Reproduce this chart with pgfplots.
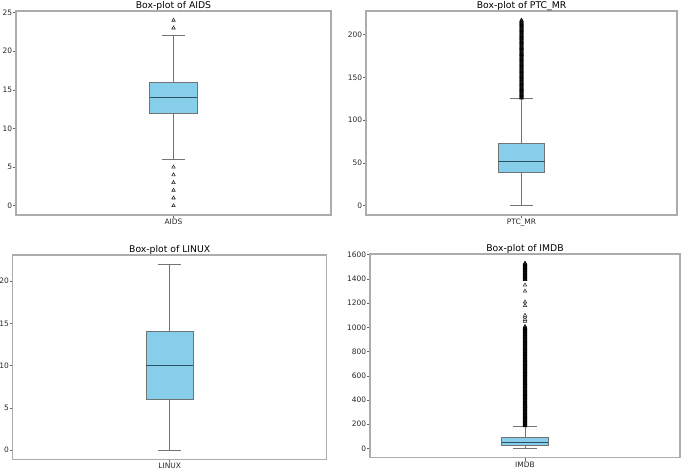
\documentclass[border=0pt]{standalone}
\usepackage{fontspec}
\setmainfont{DejaVu Sans}
\usepackage{pgfplots}
\pgfplotsset{compat=1.18}
\definecolor{boxfill}{RGB}{135,206,235}
\definecolor{boxedge}{RGB}{115,115,115}
\definecolor{medcol}{RGB}{42,82,98}
\definecolor{spine}{RGB}{172,172,172}
\pgfplotsset{bxp/.style={scale only axis, anchor=south west,
  xmin=0.5, xmax=1.5, xtick={1},
  axis line style={spine, line width=1.3bp},
  tick style={black!60, line width=0.6bp},
  major tick length=3bp, tick align=outside, tick pos=left,
  ticklabel style={font=\fontsize{7.5}{9}\selectfont, text=black!85},
  yticklabel style={inner sep=0.6bp},
  xticklabel style={inner sep=0.8bp},
  /pgf/number format/assume math mode=true,
  /pgf/number format/1000 sep={},
  scaled ticks=false,
  every axis title/.style={font=\fontsize{9.3}{11}\selectfont, at={(0.5,1)}, anchor=base, inner sep=0pt, yshift=2.8bp},
}}
\pgfplotsset{
  outl/.style={only marks, mark=triangle*, mark size=2bp, mark options={draw=black!85, fill=white, line width=0.55bp, solid}},
  outd/.style={only marks, mark=triangle*, mark size=2bp, mark options={draw=black, fill=black!80, line width=0.6bp, solid}},
  whisk/.style={draw=boxedge, line width=0.8bp, mark=none},
  boxs/.style={draw=boxedge, fill=boxfill, line width=0.9bp, mark=none},
  meds/.style={draw=medcol, line width=0.9bp, mark=none}}
\begin{document}
\begin{tikzpicture}
\path[use as bounding box] (0,0) rectangle (685bp,469bp);
% AIDS: whiskers 6/22, quartiles 12/16, median 14
\begin{axis}[bxp, at={(16bp,254bp)}, width=315bp, height=204bp,
  ymin=-1.2, ymax=25.2, ytick={0,5,10,15,20,25}, xticklabels={AIDS},
  title={Box-plot of AIDS}]
\addplot[whisk] coordinates {(1,6) (1,12)};
\addplot[whisk] coordinates {(1,16) (1,22)};
\addplot[whisk] coordinates {(0.9625,6) (1.0375,6)};
\addplot[whisk] coordinates {(0.9625,22) (1.0375,22)};
\addplot[boxs] coordinates {(0.925,12) (1.075,12) (1.075,16) (0.925,16)} -- cycle;
\addplot[meds] coordinates {(0.925,14) (1.075,14)};
\addplot[outl] coordinates {(1,0) (1,1) (1,2) (1,3) (1,4) (1,5) (1,23) (1,24)};
\end{axis}
% PTC_MR
\begin{axis}[bxp, at={(366bp,254bp)}, width=311bp, height=204bp,
  ymin=-10.85, ymax=227.85, ytick={0,50,100,150,200}, xticklabels={PTC\_MR},
  title={Box-plot of PTC\_MR}]
\addplot[whisk] coordinates {(1,0) (1,38.5)};
\addplot[whisk] coordinates {(1,72.8) (1,125)};
\addplot[whisk] coordinates {(0.9625,0) (1.0375,0)};
\addplot[whisk] coordinates {(0.9625,125) (1.0375,125)};
\addplot[boxs] coordinates {(0.925,38.5) (1.075,38.5) (1.075,72.8) (0.925,72.8)} -- cycle;
\addplot[meds] coordinates {(0.925,52) (1.075,52)};
\addplot[outd] table[row sep=\\, header=false, x expr=1, y index=0] {126\\127\\128\\129\\130\\131\\132\\133\\134\\135\\136\\137\\138\\139\\140\\141\\142\\143\\144\\145\\146\\147\\148\\149\\150\\151\\152\\153\\154\\155\\156\\157\\158\\159\\160\\161\\162\\163\\164\\165\\166\\167\\168\\169\\170\\171\\172\\173\\174\\175\\176\\177\\178\\179\\180\\181\\182\\183\\184\\185\\186\\187\\188\\189\\190\\191\\192\\193\\194\\195\\196\\197\\198\\199\\200\\201\\202\\203\\204\\205\\206\\207\\208\\209\\210\\211\\212\\213\\214\\215\\216\\217\\};
\end{axis}
% LINUX
\begin{axis}[bxp, at={(12.7bp,9.7bp)}, width=314bp, height=204.3bp,
  ymin=-1.1, ymax=23.1, ytick={0,5,10,15,20}, xticklabels={LINUX},
  title={Box-plot of LINUX}]
\addplot[whisk] coordinates {(1,0) (1,6)};
\addplot[whisk] coordinates {(1,14) (1,22)};
\addplot[whisk] coordinates {(0.9625,0) (1.0375,0)};
\addplot[whisk] coordinates {(0.9625,22) (1.0375,22)};
\addplot[boxs] coordinates {(0.925,6) (1.075,6) (1.075,14) (0.925,14)} -- cycle;
\addplot[meds] coordinates {(0.925,10) (1.075,10)};
\end{axis}
% IMDB
\begin{axis}[bxp, at={(370bp,11.3bp)}, width=310bp, height=203.7bp,
  ymin=-76.5, ymax=1606.5, ytick={0,200,400,600,800,1000,1200,1400,1600}, xticklabels={IMDB},
  title={Box-plot of IMDB}]
\addplot[whisk] coordinates {(1,0) (1,24)};
\addplot[whisk] coordinates {(1,88) (1,184)};
\addplot[whisk] coordinates {(0.9625,0) (1.0375,0)};
\addplot[whisk] coordinates {(0.9625,184) (1.0375,184)};
\addplot[boxs] coordinates {(0.925,24) (1.075,24) (1.075,88) (0.925,88)} -- cycle;
\addplot[meds] coordinates {(0.925,48) (1.075,48)};
\addplot[outd] table[row sep=\\, header=false, x expr=1, y index=0] {186\\191\\196\\201\\206\\211\\216\\221\\226\\231\\236\\241\\246\\251\\256\\261\\266\\271\\276\\281\\286\\291\\296\\301\\306\\311\\316\\321\\326\\331\\336\\341\\346\\351\\356\\361\\366\\371\\376\\381\\386\\391\\396\\401\\406\\411\\416\\421\\426\\431\\436\\441\\446\\451\\456\\461\\466\\471\\476\\481\\486\\491\\496\\501\\506\\511\\516\\521\\526\\531\\536\\541\\546\\551\\556\\561\\566\\571\\576\\581\\586\\591\\596\\601\\606\\611\\616\\621\\626\\631\\636\\641\\646\\651\\656\\661\\666\\671\\676\\681\\686\\691\\696\\701\\706\\711\\716\\721\\726\\731\\736\\741\\746\\751\\756\\761\\766\\771\\776\\781\\786\\791\\796\\801\\806\\811\\816\\821\\826\\831\\836\\841\\846\\851\\856\\861\\866\\871\\876\\881\\886\\891\\896\\901\\906\\911\\916\\921\\926\\931\\936\\941\\946\\951\\956\\961\\966\\971\\976\\981\\986\\991\\996\\1001\\1006\\};
\addplot[outl] coordinates {(1,1050) (1,1065) (1,1085) (1,1100) (1,1180) (1,1210) (1,1300) (1,1350)};
\addplot[outd] table[row sep=\\, header=false, x expr=1, y index=0] {1395\\1400\\1405\\1410\\1415\\1420\\1425\\1430\\1435\\1440\\1445\\1450\\1455\\1460\\1465\\1470\\1475\\1480\\1485\\1490\\1495\\1500\\1505\\1510\\1515\\1520\\1525\\1530\\};
\end{axis}
\end{tikzpicture}
\end{document}
